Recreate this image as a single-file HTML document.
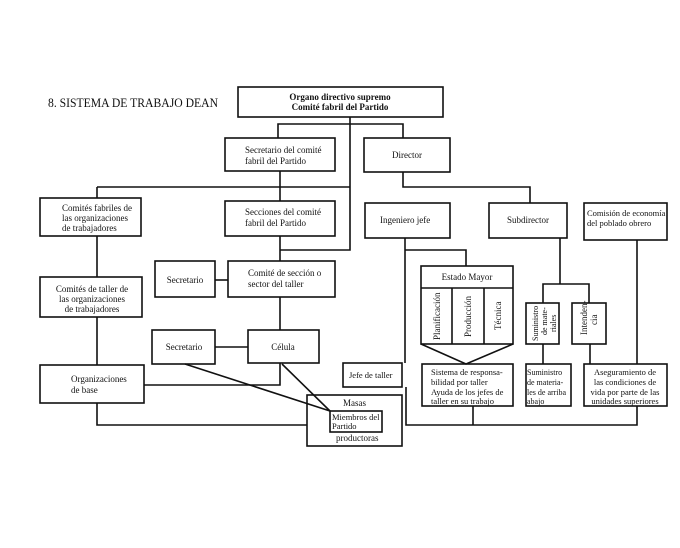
<!DOCTYPE html>
<html><head><meta charset="utf-8"><style>
html,body{margin:0;padding:0;background:#fff;}
svg text{font-family:"Liberation Serif",serif;font-size:9px;fill:#111;}
</style></head><body>
<svg width="680" height="543" viewBox="0 0 680 543" xmlns="http://www.w3.org/2000/svg">
<g fill="none" stroke="#111" stroke-width="1.6">
<rect x="238" y="87" width="205" height="30"/>
<rect x="225" y="138" width="110" height="33"/>
<rect x="364" y="138" width="86" height="34"/>
<rect x="40" y="198" width="101" height="38"/>
<rect x="225" y="201" width="110" height="35"/>
<rect x="155" y="261" width="60" height="36"/>
<rect x="228" y="261" width="107" height="36"/>
<rect x="40" y="277" width="102" height="40"/>
<rect x="152" y="330" width="63" height="34"/>
<rect x="248" y="330" width="71" height="33"/>
<rect x="40" y="365" width="104" height="38"/>
<rect x="307" y="395" width="95" height="51"/>
<rect x="330" y="411" width="52" height="21"/>
<rect x="343" y="363" width="59" height="24"/>
<rect x="365" y="203" width="85" height="35"/>
<rect x="489" y="203" width="78" height="35"/>
<rect x="584" y="203" width="83" height="37"/>
<rect x="421" y="266" width="92" height="78"/>
<line x1="421" y1="288" x2="513" y2="288"/>
<line x1="452" y1="288" x2="452" y2="344"/>
<line x1="484" y1="288" x2="484" y2="344"/>
<polyline points="421,344 466,364 513,344"/>
<rect x="422" y="364" width="91" height="42"/>
<rect x="526" y="303" width="33" height="41"/>
<rect x="572" y="303" width="34" height="41"/>
<rect x="526" y="364" width="45" height="42"/>
<rect x="584" y="364" width="83" height="42"/>
<polyline points="278,138 278,124 403,124 403,138"/>
<polyline points="350,117 350,250 280,250"/>
<line x1="97" y1="187" x2="350" y2="187"/>
<line x1="97" y1="187" x2="97" y2="198"/>
<line x1="280" y1="171" x2="280" y2="201"/>
<line x1="280" y1="236" x2="280" y2="261"/>
<line x1="215" y1="280" x2="228" y2="280"/>
<line x1="97" y1="236" x2="97" y2="277"/>
<line x1="97" y1="317" x2="97" y2="365"/>
<line x1="280" y1="297" x2="280" y2="330"/>
<line x1="215" y1="347" x2="248" y2="347"/>
<polyline points="144,385 280,385 280,363"/>
<polyline points="97,403 97,425 307,425"/>
<line x1="185" y1="364" x2="330" y2="411"/>
<line x1="282" y1="364" x2="330" y2="411"/>
<polyline points="403,172 403,187 530,187 530,203"/>
<line x1="405" y1="238" x2="405" y2="363"/>
<polyline points="405,250 466,250 466,266"/>
<line x1="560" y1="238" x2="560" y2="284"/>
<polyline points="543,303 543,284 589,284 589,303"/>
<line x1="543" y1="344" x2="543" y2="364"/>
<line x1="590" y1="344" x2="590" y2="364"/>
<line x1="637" y1="240" x2="637" y2="364"/>
<polyline points="406,387 406,425 637,425 637,406"/>
<line x1="473" y1="406" x2="473" y2="425"/>
</g>
<text x="48" y="107" style="font-size:12.5px" textLength="170" lengthAdjust="spacingAndGlyphs">8. SISTEMA DE TRABAJO DEAN</text>
<text x="340" y="100" text-anchor="middle" style="font-weight:bold">Organo directivo supremo</text>
<text x="340" y="110" text-anchor="middle" style="font-weight:bold">Comité fabril del Partido</text>
<text x="245" y="153">Secretario del comité</text>
<text x="245" y="164">fabril  del Partido</text>
<text x="407" y="158" text-anchor="middle">Director</text>
<text x="62" y="211">Comités fabriles de</text>
<text x="62" y="221">las organizaciones</text>
<text x="62" y="231">de trabajadores</text>
<text x="245" y="215">Secciones del comité</text>
<text x="245" y="226">fabril  del Partido</text>
<text x="185" y="283" text-anchor="middle">Secretario</text>
<text x="248" y="276">Comité de sección o</text>
<text x="248" y="287">sector del taller</text>
<text x="92" y="292" text-anchor="middle">Comités de taller de</text>
<text x="92" y="302" text-anchor="middle">las organizaciones</text>
<text x="92" y="312" text-anchor="middle">de trabajadores</text>
<text x="184" y="350" text-anchor="middle">Secretario</text>
<text x="283" y="350" text-anchor="middle">Célula</text>
<text x="71" y="382">Organizaciones</text>
<text x="71" y="393">de base</text>
<text x="343" y="406">Masas</text>
<text x="332" y="420" style="font-size:8.5px">Miembros del</text>
<text x="332" y="429" style="font-size:8.5px">Partido</text>
<text x="336" y="441">productoras</text>
<text x="349" y="378" style="font-size:8.5px">Jefe de taller</text>
<text x="380" y="223">Ingeniero jefe</text>
<text x="528" y="223" text-anchor="middle">Subdirector</text>
<text x="587" y="216" style="font-size:8.5px">Comisión de economía</text>
<text x="587" y="226" style="font-size:8.5px">del poblado obrero</text>
<text x="467" y="280" text-anchor="middle">Estado Mayor</text>
<text transform="translate(440,340) rotate(-90)">Planificación</text>
<text transform="translate(471,337) rotate(-90)">Producción</text>
<text transform="translate(501,330) rotate(-90)">Técnica</text>
<text transform="translate(538,341) rotate(-90)" style="font-size:8px">Suministro</text>
<text transform="translate(547,335) rotate(-90)" style="font-size:8px">de mate-</text>
<text transform="translate(556,332) rotate(-90)" style="font-size:8px">riales</text>
<text transform="translate(587,335) rotate(-90)">Intenden-</text>
<text transform="translate(597,325) rotate(-90)">cia</text>
<text x="431" y="375" style="font-size:8.5px">Sistema de responsa-</text>
<text x="431" y="385" style="font-size:8.5px">bilidad por taller</text>
<text x="431" y="395" style="font-size:8.5px">Ayuda de los jefes de</text>
<text x="431" y="404" style="font-size:8.5px">taller en su trabajo</text>
<text x="527" y="375" style="font-size:8px">Suministro</text>
<text x="527" y="385" style="font-size:8px">de materia-</text>
<text x="527" y="395" style="font-size:8px">les de arriba</text>
<text x="527" y="404" style="font-size:8px">abajo</text>
<text x="625" y="375" text-anchor="middle" style="font-size:8.5px">Aseguramiento de</text>
<text x="625" y="385" text-anchor="middle" style="font-size:8.5px">las condiciones de</text>
<text x="625" y="395" text-anchor="middle" style="font-size:8.5px">vida por parte de las</text>
<text x="625" y="404" text-anchor="middle" style="font-size:8.5px">unidades superiores</text>
</svg>
</body></html>
